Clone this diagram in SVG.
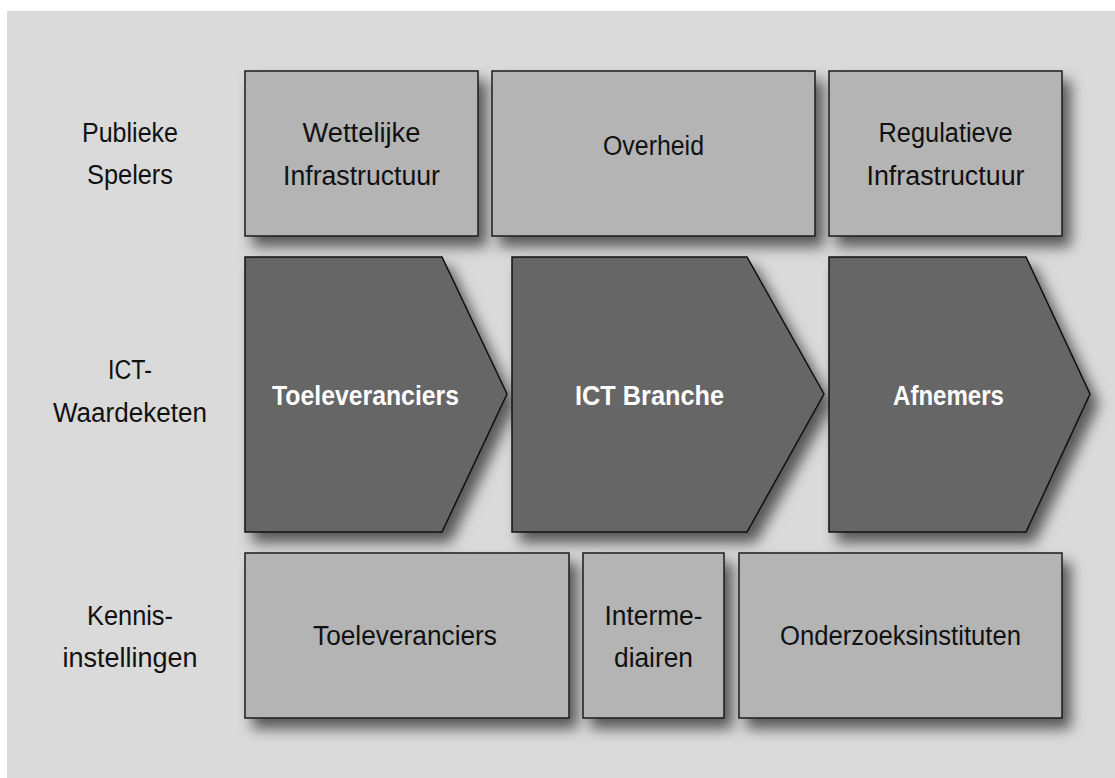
<svg xmlns="http://www.w3.org/2000/svg" width="1115" height="778" viewBox="0 0 1115 778">
  <defs>
    <filter id="shadow" x="-10%" y="-10%" width="130%" height="140%">
      <feDropShadow dx="8" dy="10" stdDeviation="7" flood-color="#000" flood-opacity="0.6"/>
    </filter>
  </defs>
  <style>
    .box { fill: #b4b4b4; stroke: #1e1e1e; stroke-width: 1.5; filter: url(#shadow); }
    .chev { fill: #666666; stroke: #111; stroke-width: 1.5; stroke-linejoin: miter; filter: url(#shadow); }
    .lbl { font-family: "Liberation Sans", Arial, sans-serif; font-size: 27px; fill: #111; text-anchor: middle; }
    .head { font-family: "Liberation Sans", Arial, sans-serif; font-size: 27px; font-weight: bold; fill: #fff; text-anchor: middle; }
  </style>

  <!-- background panel -->
  <rect x="0" y="0" width="1115" height="778" fill="#ffffff"/>
  <rect x="7" y="11" width="1108" height="767" fill="#d9dad9"/>

  <!-- row labels -->
  <g id="row-publiek">
    <text class="lbl" x="130" y="142" textLength="96" lengthAdjust="spacingAndGlyphs">Publieke</text>
    <text class="lbl" x="130" y="184" textLength="86" lengthAdjust="spacingAndGlyphs">Spelers</text>
  </g>
  <g id="row-ict">
    <text class="lbl" x="130" y="379" textLength="44" lengthAdjust="spacingAndGlyphs">ICT-</text>
    <text class="lbl" x="130" y="422" textLength="154" lengthAdjust="spacingAndGlyphs">Waardeketen</text>
  </g>
  <g id="row-kennis">
    <text class="lbl" x="130" y="625" textLength="86" lengthAdjust="spacingAndGlyphs">Kennis-</text>
    <text class="lbl" x="130" y="667" textLength="135" lengthAdjust="spacingAndGlyphs">instellingen</text>
  </g>

  <!-- top row: public players -->
  <g id="wettelijke-infrastructuur">
    <rect class="box" x="245" y="71" width="233" height="165"/>
    <text class="lbl" x="361.5" y="142" textLength="118" lengthAdjust="spacingAndGlyphs">Wettelijke</text>
    <text class="lbl" x="361.5" y="185" textLength="157" lengthAdjust="spacingAndGlyphs">Infrastructuur</text>
  </g>
  <g id="overheid">
    <rect class="box" x="492" y="71" width="323" height="165"/>
    <text class="lbl" x="653.5" y="155" textLength="101" lengthAdjust="spacingAndGlyphs">Overheid</text>
  </g>
  <g id="regulatieve-infrastructuur">
    <rect class="box" x="829" y="71" width="233" height="165"/>
    <text class="lbl" x="945.5" y="142" textLength="134" lengthAdjust="spacingAndGlyphs">Regulatieve</text>
    <text class="lbl" x="945.5" y="185" textLength="158" lengthAdjust="spacingAndGlyphs">Infrastructuur</text>
  </g>

  <!-- middle row: value chain -->
  <g id="toeleveranciers-keten">
    <polygon class="chev" points="245,257 442,257 507,394 442,532 245,532"/>
    <text class="head" x="365.5" y="405" textLength="187" lengthAdjust="spacingAndGlyphs">Toeleveranciers</text>
  </g>
  <g id="ict-branche">
    <polygon class="chev" points="512,257 747,257 824,394 747,532 512,532"/>
    <text class="head" x="649.5" y="405" textLength="149" lengthAdjust="spacingAndGlyphs">ICT Branche</text>
  </g>
  <g id="afnemers">
    <polygon class="chev" points="829,257 1026,257 1090,394 1026,532 829,532"/>
    <text class="head" x="948.5" y="405" textLength="111" lengthAdjust="spacingAndGlyphs">Afnemers</text>
  </g>

  <!-- bottom row: knowledge institutions -->
  <g id="toeleveranciers-kennis">
    <rect class="box" x="245" y="553" width="324" height="165"/>
    <text class="lbl" x="405" y="645" textLength="184" lengthAdjust="spacingAndGlyphs">Toeleveranciers</text>
  </g>
  <g id="intermediairen">
    <rect class="box" x="583" y="553" width="141" height="165"/>
    <text class="lbl" x="653.5" y="625" textLength="98" lengthAdjust="spacingAndGlyphs">Interme-</text>
    <text class="lbl" x="653.5" y="667" textLength="79" lengthAdjust="spacingAndGlyphs">diairen</text>
  </g>
  <g id="onderzoeksinstituten">
    <rect class="box" x="739" y="553" width="323" height="165"/>
    <text class="lbl" x="900.5" y="645" textLength="241" lengthAdjust="spacingAndGlyphs">Onderzoeksinstituten</text>
  </g>

  <!-- no connectors in this figure -->
  <g id="connectors"/>
</svg>
